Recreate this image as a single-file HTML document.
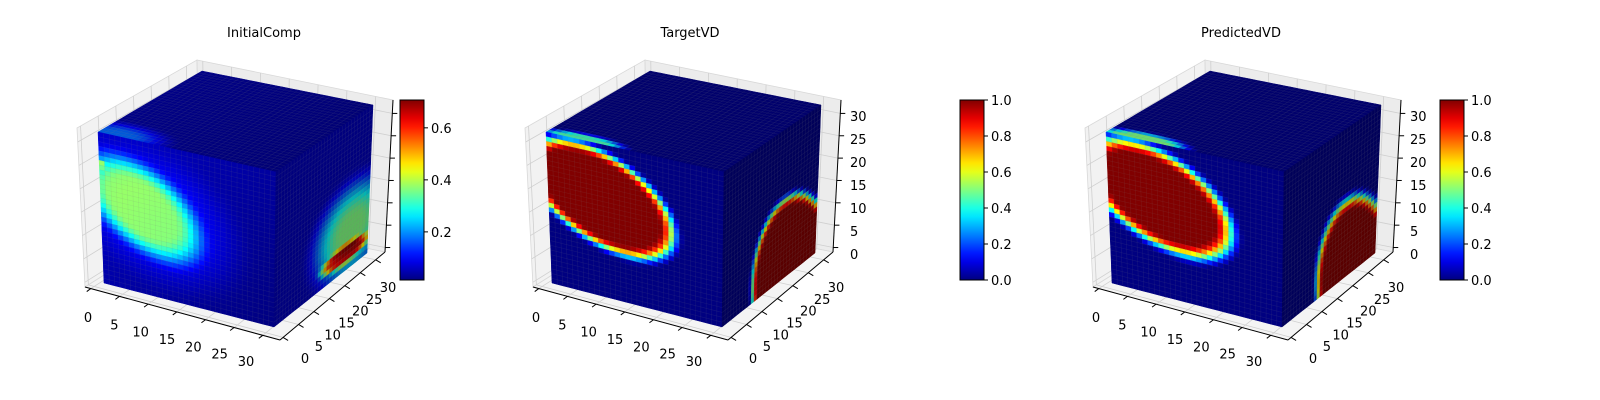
<!DOCTYPE html>
<html><head><meta charset="utf-8"><style>
html,body{margin:0;padding:0;background:#fff;}
svg{display:block;font-family:"DejaVu Sans","Liberation Sans",sans-serif;}
</style></head><body>
<svg id="fig" width="1600" height="400" viewBox="0 0 1600 400" xmlns="http://www.w3.org/2000/svg"></svg>
<script>
// ---- data ----
const panelTitles = ["InitialComp", "TargetVD", "PredictedVD"];
const axisTickValues = [0, 5, 10, 15, 20, 25, 30];
const p1ColorbarRange = [0.015, 0.707];
const p1ColorbarTicks = [0.2, 0.4, 0.6];
const unitColorbarTicks = [0.0, 0.2, 0.4, 0.6, 0.8, 1.0];
// face fields: base = [b0, du, dv]; blobs = [cx, cy, a, b, angleDeg, amp, edgeWidth]
const p1FrontBase = [0.07, -0.04, -0.03];
const p1FrontBlobs = [[0.32,0.48,0.64,0.5,35,0.1,0.7],[0.24,0.44,0.48,0.31,40,0.37,0.55],[0.0,0.21,0.05,0.045,0,0.2,0.8]];
const p1TopBase = [0.03, -0.02, 0];
const p1TopBlobs = [[0.1,0.98,0.35,0.2,0,0.2,0.8]];
const p1RightBase = [0.05, 0, 0];
const p1RightBlobs = [[0.82,0.75,0.55,0.42,0,0.45,0.8],[0.75,0.89,0.32,0.08,0,0.5,0.5]];
const p2FrontBase = [0, 0, 0];
const p2FrontBlobs = [[0.3,0.36,0.52,0.33,30,1.0,0.3]];
const p2TopBase = [0, 0, 0];
const p2TopBlobs = [[0.2,1.0,0.3,0.1,0,0.45,0.6]];
const p2RightBase = [0, 0, 0];
const p2RightBlobs = [[0.74,1.0,0.44,0.6,-20,1.0,0.22]];
const p3FrontBase = [0, 0, 0];
const p3FrontBlobs = [[0.29,0.36,0.53,0.34,30,1.0,0.35]];
const p3TopBase = [0, 0, 0];
const p3TopBlobs = [[0.2,1.0,0.32,0.12,0,0.5,0.6]];
const p3RightBase = [0, 0, 0];
const p3RightBlobs = [[0.76,1.0,0.42,0.6,-20,1.0,0.28]];

// ---- layout ----
const NS = "http://www.w3.org/2000/svg";
const svg = document.getElementById('fig');
const N = 32;
const panelDx = [0, 448, 1008];
const titleX = [264, 690, 1241];
const cbX = [400, 960, 1440];
const cbTop = 100, cbBot = 280, cbW = 24;
const faceShade = {front:1.0, top:0.85, right:0.7};

function mk(tag, attrs, parent){const e=document.createElementNS(NS,tag);for(const k in attrs)e.setAttribute(k,attrs[k]);(parent||svg).appendChild(e);return e;}
function cl(x){return Math.max(0,Math.min(1,x));}
function jet(v){v=cl(v);return [cl(1.5-Math.abs(4*v-3)),cl(1.5-Math.abs(4*v-2)),cl(1.5-Math.abs(4*v-1))];}
function rgb(c,s){return 'rgb('+c.map(x=>Math.round(x*s*255)).join(',')+')';}
function field(u,v,base,blobs){
  let val=base[0]+base[1]*u+base[2]*v;
  for(const b of blobs){
    const dx=u-b[0],dy=v-b[1],a=b[4]*Math.PI/180;
    const al=dx*Math.cos(a)+dy*Math.sin(a), pp=-dx*Math.sin(a)+dy*Math.cos(a);
    const r=Math.sqrt((al/b[2])**2+(pp/b[3])**2);
    let t=cl((1-r)/b[6]); t=t*t*(3-2*t);
    val+=b[5]*t;
  }
  return cl(val);
}
function bil(c,u,v){
  const tx=c[0][0]*(1-u)+c[1][0]*u, ty=c[0][1]*(1-u)+c[1][1]*u;
  const bx=c[3][0]*(1-u)+c[2][0]*u, by=c[3][1]*(1-u)+c[2][1]*u;
  return [tx*(1-v)+bx*v, ty*(1-v)+by*v];
}
function lerp(a,b,t){return [a[0]+(b[0]-a[0])*t,a[1]+(b[1]-a[1])*t];}
function sh(p,dx){return [p[0]+dx,p[1]];}

const fields = [
  {front:[p1FrontBase,p1FrontBlobs],top:[p1TopBase,p1TopBlobs],right:[p1RightBase,p1RightBlobs]},
  {front:[p2FrontBase,p2FrontBlobs],top:[p2TopBase,p2TopBlobs],right:[p2RightBase,p2RightBlobs]},
  {front:[p3FrontBase,p3FrontBlobs],top:[p3TopBase,p3TopBlobs],right:[p3RightBase,p3RightBlobs]}
];

const defs = mk('defs',{});
const lg = mk('linearGradient',{id:'jetgrad',x1:0,y1:1,x2:0,y2:0},defs);
for(let i=0;i<=20;i++){mk('stop',{offset:(i/20),'stop-color':rgb(jet(i/20),1)},lg);}

for(let p=0;p<3;p++){
  const dx=panelDx[p];
  const g = mk('g',{});
  
  
  const t = mk('text',{x:titleX[p],y:37,'font-size':13,'text-anchor':'middle',fill:'#000'},g);
  t.textContent = panelTitles[p];
  
  

  const A=sh([85,287],dx),B=sh([280,340],dx),C=sh([200,215],dx),D=sh([385,252],dx);
  const At=sh([77,128],dx),Ct=sh([197,60],dx),Dt=sh([393,100],dx);
  const pane=(pts,name,fill)=>{const e=mk('polygon',{points:pts.map(q=>q.join(',')).join(' '),fill:fill,stroke:'#d8d8d8','stroke-width':0.8},g);};
  pane([At,Ct,C,A],'left-pane','#f2f2f2');
  pane([Ct,Dt,D,C],'back-pane','#ececec');
  pane([A,C,D,B],'floor-pane','#f4f4f4');
  const gl=(a,b)=>mk('line',{x1:a[0],y1:a[1],x2:b[0],y2:b[1],stroke:'#cfcfcf','stroke-width':0.8},g);
  for(const v of axisTickValues){
    const f=(v+1)/34;
    gl(lerp(A,B,f),lerp(C,D,f)); gl(lerp(C,D,f),lerp(Ct,Dt,f));
    gl(lerp(A,C,f),lerp(B,D,f)); gl(lerp(A,C,f),lerp(At,Ct,f));
    gl(lerp(A,At,f),lerp(C,Ct,f)); gl(lerp(C,Ct,f),lerp(D,Dt,f));
  }
  const axl=(a,b,name)=>{const e=mk('line',{x1:a[0],y1:a[1],x2:b[0],y2:b[1],stroke:'#000','stroke-width':1},g);};
  axl(A,B,'x-axis'); axl(B,D,'y-axis'); axl(Dt,D,'z-axis');
  for(const v of axisTickValues){
    const f=(v+1)/34;
    const px=lerp(A,B,f); mk('line',{x1:px[0],y1:px[1],x2:px[0]-4,y2:px[1]+3,stroke:'#000'},g);
    const py=lerp(B,D,f); mk('line',{x1:py[0],y1:py[1],x2:py[0]+5,y2:py[1]+3,stroke:'#000'},g);
    const pz=lerp(D,Dt,f); mk('line',{x1:pz[0],y1:pz[1],x2:pz[0]+5,y2:pz[1],stroke:'#000'},g);
  }
  axisTickValues.forEach((v,i)=>{
    const q=i/6;
    const xl=lerp(sh([88,322],dx),sh([246,366],dx),q);
    const e1=mk('text',{x:xl[0],y:xl[1],'font-size':13,'text-anchor':'middle'},g); e1.textContent=v;
    
    
    const yl=lerp(sh([305,363],dx),sh([388,292],dx),q);
    const e2=mk('text',{x:yl[0],y:yl[1],'font-size':13,'text-anchor':'middle'},g); e2.textContent=v;
    
    
    const e3=mk('text',{x:dx+402,y:259-v/30*138,'font-size':13,'text-anchor':'start'},g); e3.textContent=v;
    
    
  });

  const faces = {
    top:[sh([202,71],dx),sh([373,105],dx),sh([276,172],dx),sh([98,132],dx)],
    front:[sh([98,132],dx),sh([276,172],dx),sh([274,327],dx),sh([104,283],dx)],
    right:[sh([276,172],dx),sh([373,105],dx),sh([367,253],dx),sh([274,327],dx)]
  };
  for(const fn of ['top','front','right']){
    const c=faces[fn];
    const fg=mk('g',{},g);
    
    
    const [base,blobs]=fields[p][fn];
    for(let i=0;i<N;i++)for(let j=0;j<N;j++){
      const u0=i/N,u1=(i+1)/N,v0=j/N,v1=(j+1)/N;
      const val=field((i+0.5)/N,(j+0.5)/N,base,blobs);
      const col=rgb(jet(val),faceShade[fn]);
      const pts=[bil(c,u0,v0),bil(c,u1,v0),bil(c,u1,v1),bil(c,u0,v1)];
      mk('polygon',{points:pts.map(q=>q[0].toFixed(1)+','+q[1].toFixed(1)).join(' '),fill:col,stroke:col,'stroke-width':0.5},fg);
    }
    for(let k=1;k<N;k++){
      const a=bil(c,k/N,0),b=bil(c,k/N,1),a2=bil(c,0,k/N),b2=bil(c,1,k/N);
      mk('line',{x1:a[0],y1:a[1],x2:b[0],y2:b[1],stroke:'#808080','stroke-opacity':0.15,'stroke-width':0.6},fg);
      mk('line',{x1:a2[0],y1:a2[1],x2:b2[0],y2:b2[1],stroke:'#808080','stroke-opacity':0.15,'stroke-width':0.6},fg);
    }
  }

  const cx=cbX[p];
  const cb=mk('rect',{x:cx,y:cbTop,width:cbW,height:cbBot-cbTop,fill:'url(#jetgrad)',stroke:'#000','stroke-width':1},g);
  
  
  const range = p===0 ? p1ColorbarRange : [0,1];
  const ticks = p===0 ? p1ColorbarTicks : unitColorbarTicks;
  for(const tv of ticks){
    const y=cbBot-(tv-range[0])/(range[1]-range[0])*(cbBot-cbTop);
    mk('line',{x1:cx+cbW,y1:y,x2:cx+cbW+4,y2:y,stroke:'#000'},g);
    const e=mk('text',{x:cx+cbW+7,y:y+5,'font-size':13},g); e.textContent=tv.toFixed(1);
    
    
  }
}
</script>
</body></html>
